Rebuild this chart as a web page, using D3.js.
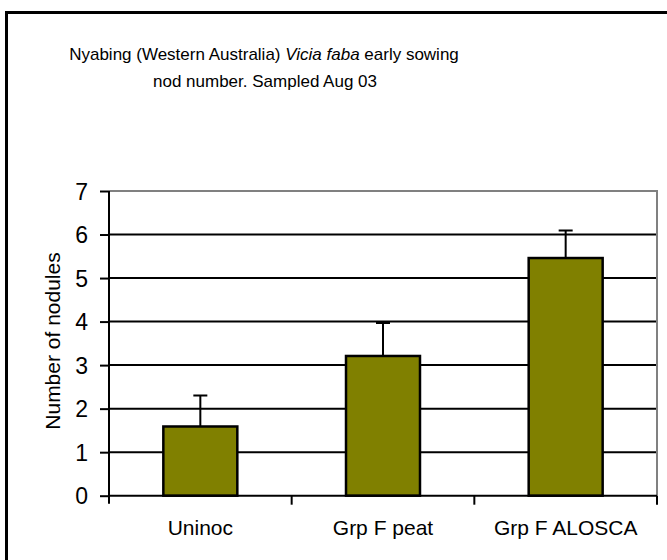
<!DOCTYPE html>
<html>
<head>
<meta charset="utf-8">
<script src="https://cdn.jsdelivr.net/npm/d3@7"></script>
<style>
  body { margin: 0; background: #fff; }
  svg { display: block; font-family: "Liberation Sans", Arial, sans-serif; }
</style>
</head>
<body>
<div class="chart"></div>
<script>
// data
const categories = ["Uninoc", "Grp F peat", "Grp F ALOSCA"];
const means = [1.59, 3.21, 5.46];
const errors = [0.71, 0.76, 0.63];
const yTicks = [0, 1, 2, 3, 4, 5, 6, 7];

const W = 667, H = 560;
const plotLeft = 109, plotRight = 657, plotTop = 191, plotBottom = 495.7;

const svg = d3.select(".chart")
    .append("svg")
        .attr("width", W)
        .attr("height", H)
        .attr("viewBox", `0 0 ${W} ${H}`);

// outer chart frame (cropped at right and bottom)
svg.append("rect")
    .attr("x", 6.5).attr("y", 12.5)
    .attr("width", 720).attr("height", 600)
    .attr("fill", "none")
    .attr("stroke", "#000")
    .attr("stroke-width", 3);

const x = d3.scaleBand()
    .domain(categories)
    .range([plotLeft, plotRight])
    .padding(0);

const y = d3.scaleLinear()
    .domain([0, 7])
    .range([plotBottom, plotTop]);

// gridlines
svg.append("g")
    .selectAll("line")
    .data(yTicks.filter(d => d > 0 && d < 7))
    .join("line")
        .attr("x1", plotLeft).attr("x2", plotRight)
        .attr("y1", d => y(d)).attr("y2", d => y(d))
        .attr("stroke", "#000")
        .attr("stroke-width", 2);

// plot area border, top and right in grey
svg.append("path")
    .attr("d", `M${plotLeft},${y(7)}H${plotRight}V${plotBottom}`)
    .attr("fill", "none")
    .attr("stroke", "#808080")
    .attr("stroke-width", 2);

// error bars (upper only)
const bw = x.bandwidth() * 0.405;
const cx = d => x(d) + x.bandwidth() / 2;

svg.append("g")
    .selectAll("path")
    .data(categories)
    .join("path")
        .attr("d", (d, i) => {
            const yt = y(means[i] + errors[i]);
            return `M${cx(d)},${y(means[i])}V${yt}M${cx(d) - 7},${yt}H${cx(d) + 7}`;
        })
        .attr("fill", "none")
        .attr("stroke", "#000")
        .attr("stroke-width", 2);

// bars
svg.append("g")
    .selectAll("rect")
    .data(categories)
    .join("rect")
        .attr("x", d => cx(d) - bw / 2)
        .attr("y", (d, i) => y(means[i]))
        .attr("width", bw)
        .attr("height", (d, i) => y(0) - y(means[i]))
        .attr("fill", "#808000")
        .attr("stroke", "#000")
        .attr("stroke-width", 2.5);

// y axis
const yAxis = svg.append("g")
    .attr("transform", `translate(${plotLeft},0)`)
    .call(d3.axisLeft(y).tickValues(yTicks).tickSize(9).tickPadding(12).tickFormat(d3.format("d")));
yAxis.select(".domain").remove();
yAxis.append("line")
    .attr("y1", plotTop).attr("y2", plotBottom + 8)
    .attr("stroke", "#000").attr("stroke-width", 2);
yAxis.selectAll(".tick line").attr("stroke", "#000").attr("stroke-width", 2);
yAxis.selectAll(".tick text")
    .attr("fill", "#000")
    .style("font-size", "23px")
    .attr("dy", "0.36em");

// x axis line and ticks at category boundaries
svg.append("line")
    .attr("x1", plotLeft).attr("x2", plotRight)
    .attr("y1", plotBottom).attr("y2", plotBottom)
    .attr("stroke", "#000").attr("stroke-width", 2);

svg.append("g")
    .selectAll("line")
    .data(categories.slice(1).concat(["end"]))
    .join("line")
        .attr("x1", d => d === "end" ? plotRight : x(d))
        .attr("x2", d => d === "end" ? plotRight : x(d))
        .attr("y1", plotBottom).attr("y2", plotBottom + 9)
        .attr("stroke", "#000").attr("stroke-width", 2);

svg.append("g")
    .selectAll("text")
    .data(categories)
    .join("text")
        .attr("x", d => cx(d))
        .attr("y", 535)
        .attr("text-anchor", "middle")
        .style("font-size", "21px")
        .text(d => d);

// y axis title
svg.append("text")
    .attr("transform", "translate(60,341) rotate(-90)")
    .attr("text-anchor", "middle")
    .style("font-size", "21px")
    .text("Number of nodules");

// chart title, two lines
const t1 = svg.append("text")
    .attr("x", 264).attr("y", 60)
    .attr("text-anchor", "middle")
    .style("font-size", "17px");
t1.append("tspan").text("Nyabing (Western Australia) ");
t1.append("tspan").style("font-style", "italic").text("Vicia faba");
t1.append("tspan").text(" early sowing");

svg.append("text")
    .attr("x", 265).attr("y", 87)
    .attr("text-anchor", "middle")
    .style("font-size", "17px")
    .text("nod number. Sampled Aug 03");
</script>
</body>
</html>
